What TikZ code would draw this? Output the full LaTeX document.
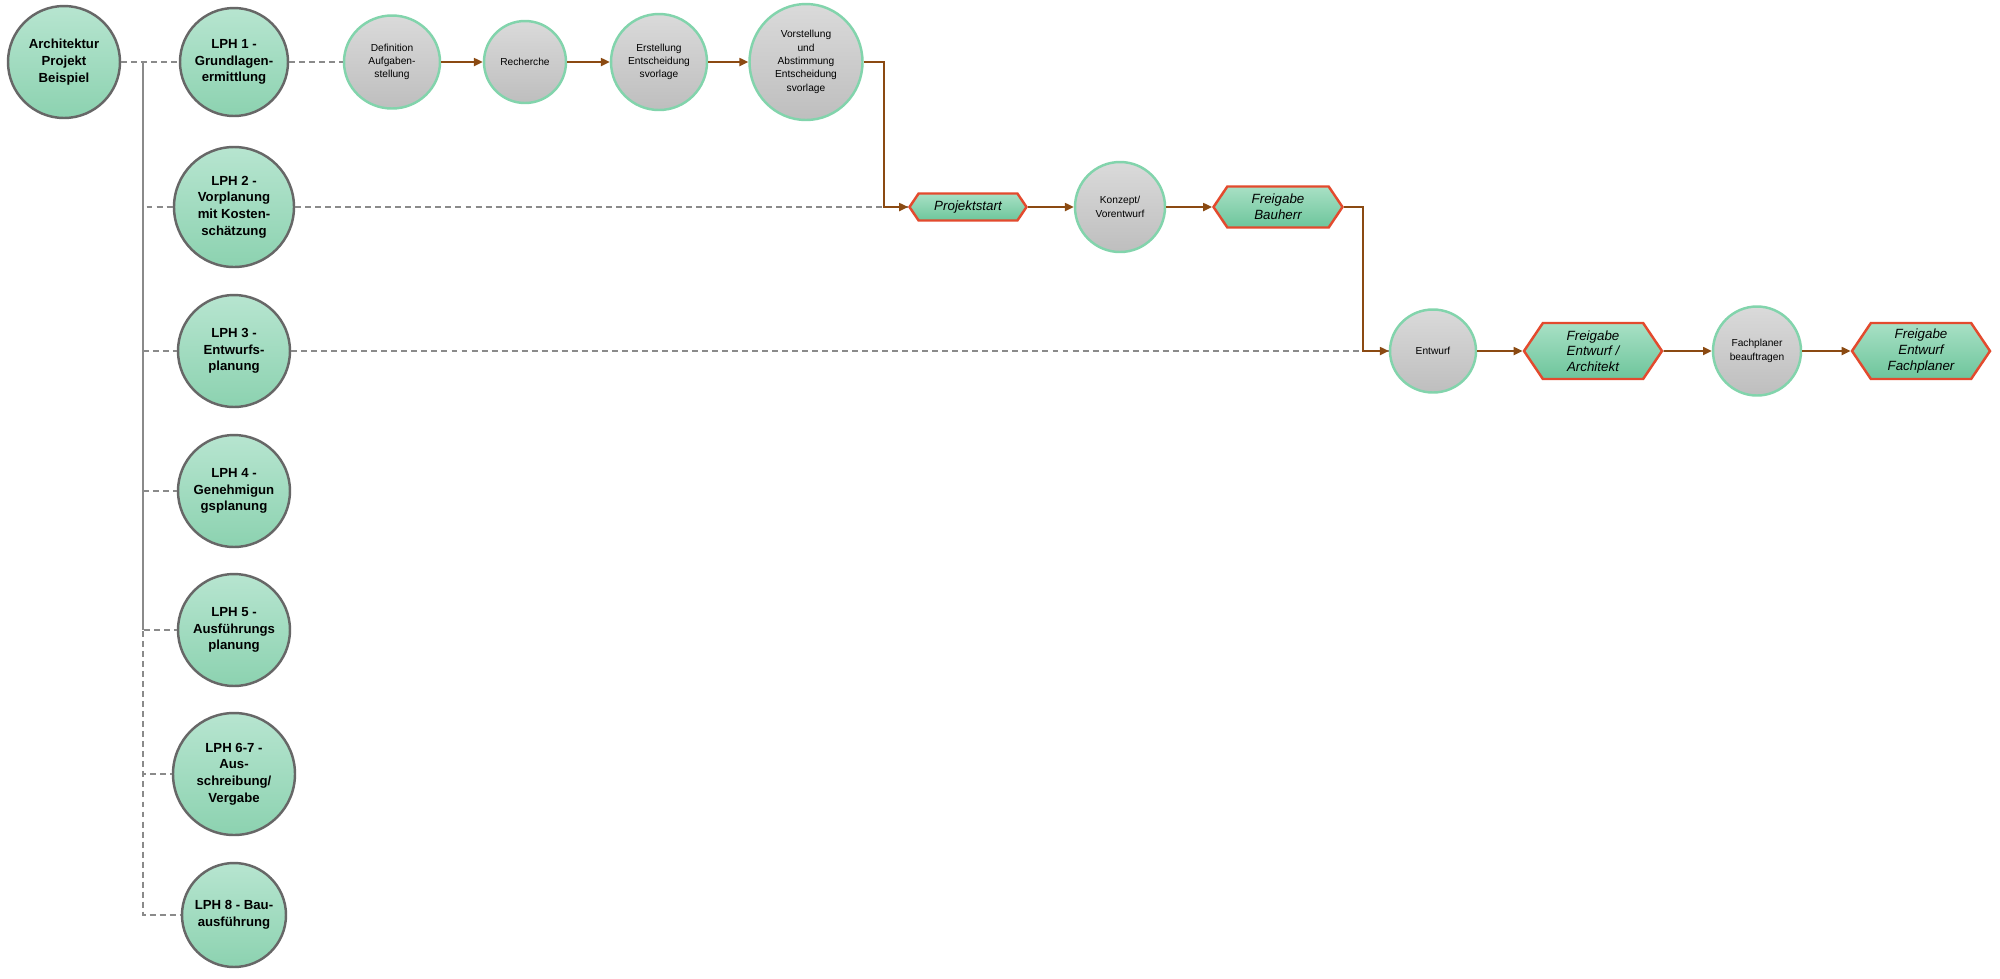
\documentclass[tikz,border=0pt]{standalone}
\usepackage{fontspec}
\setmainfont{Liberation Sans}
\usetikzlibrary{shapes, arrows.meta, positioning, calc}

\definecolor{greentop}{HTML}{B7E5D0}
\definecolor{greenbottom}{HTML}{8CD2B0}
\definecolor{gatetop}{HTML}{A8E0C5}
\definecolor{gatebottom}{HTML}{6DC59B}
\definecolor{steprim}{HTML}{82D4AC}
\definecolor{greytop}{HTML}{DADADA}
\definecolor{greybottom}{HTML}{BEBEBE}
\definecolor{phaserim}{HTML}{676767}
\definecolor{gaterim}{HTML}{E34A2E}
\definecolor{flowbrown}{HTML}{8B4A12}
\definecolor{linkgray}{HTML}{8A8A8A}

\begin{document}
\begin{tikzpicture}[
	% Define styles
	phasenode/.style={circle, draw=phaserim, line width=1.4pt, top color=greentop, bottom color=greenbottom, align=center, inner sep=0pt, font=\fontsize{7.5}{9.5}\selectfont\bfseries},
	stepnode/.style={ellipse, draw=steprim, line width=1.4pt, top color=greytop, bottom color=greybottom, align=center, inner sep=0pt, font=\fontsize{5.8}{7.6}\selectfont},
	gatenode/.style={signal, signal to=west and east, signal pointer angle=112, draw=gaterim, line width=1.4pt, top color=gatetop, bottom color=gatebottom, align=center, inner sep=0pt, font=\fontsize{7.6}{8.9}\selectfont\itshape},
	flowarrow/.style={-{Triangle[length=5pt, width=4.5pt]}, line width=1.1pt, draw=flowbrown},
	linkline/.style={draw=linkgray, line width=0.85pt, dash pattern=on 3.4pt off 2.3pt},
	trunkline/.style={draw=linkgray, line width=0.85pt}
	]
	
	\useasboundingbox[fill=white] (0,0) rectangle (40,-19.56);
	
	% Project and phases
	\node[phasenode, minimum size=2.24cm] (root) at (1.28,-1.24) {Architektur\\Projekt\\Beispiel};
	\node[phasenode, minimum size=2.16cm] (lph1) at (4.68,-1.24) {LPH 1 -\\Grundlagen-\\ermittlung};
	\node[phasenode, minimum size=2.4cm] (lph2) at (4.68,-4.14) {LPH 2 -\\Vorplanung\\mit Kosten-\\schätzung};
	\node[phasenode, minimum size=2.24cm] (lph3) at (4.68,-7.02) {LPH 3 -\\Entwurfs-\\planung};
	\node[phasenode, minimum size=2.24cm] (lph4) at (4.68,-9.82) {LPH 4 -\\Genehmigun\\gsplanung};
	\node[phasenode, minimum size=2.24cm] (lph5) at (4.68,-12.6) {LPH 5 -\\Ausführungs\\planung};
	\node[phasenode, minimum size=2.44cm] (lph67) at (4.68,-15.48) {LPH 6-7 -\\Aus-\\schreibung/\\Vergabe};
	\node[phasenode, minimum size=2.08cm] (lph8) at (4.68,-18.3) {LPH 8 - Bau-\\ausführung};
	\coordinate (trunk) at (2.86,-1.24);
	
	% Steps of LPH 1
	\node[stepnode, minimum width=1.92cm, minimum height=1.86cm] (defi) at (7.84,-1.24) {Definition\\Aufgaben-\\stellung};
	\node[stepnode, minimum width=1.64cm, minimum height=1.64cm] (rech) at (10.5,-1.24) {Recherche};
	\node[stepnode, minimum width=1.92cm, minimum height=1.92cm] (erst) at (13.18,-1.24) {Erstellung\\Entscheidung\\svorlage};
	\node[stepnode, minimum width=2.26cm, minimum height=2.32cm] (vors) at (16.12,-1.24) {Vorstellung\\und\\Abstimmung\\Entscheidung\\svorlage};
	\coordinate (bend1) at (17.68,-1.24);
	
	% Steps of LPH 2
	\node[gatenode, minimum width=2.34cm, minimum height=0.54cm] (proj) at (19.36,-4.14) {Projektstart};
	\node[stepnode, minimum width=1.8cm, minimum height=1.8cm] (konz) at (22.4,-4.14) {Konzept/\\Vorentwurf};
	\node[gatenode, minimum width=2.58cm, minimum height=0.82cm] (fbau) at (25.56,-4.14) {Freigabe\\Bauherr};
	\coordinate (bend2) at (27.26,-4.14);
	
	% Steps of LPH 3
	\node[stepnode, minimum width=1.72cm, minimum height=1.66cm] (entw) at (28.66,-7.02) {Entwurf};
	\node[gatenode, minimum width=2.76cm, minimum height=1.12cm] (farch) at (31.86,-7.02) {Freigabe\\Entwurf /\\Architekt};
	\node[stepnode, minimum width=1.76cm, minimum height=1.78cm] (fach) at (35.14,-7.02) {Fachplaner\\beauftragen};
	\node[gatenode, minimum width=2.76cm, minimum height=1.12cm] (ffach) at (38.42,-7.02) {Freigabe\\Entwurf\\Fachplaner};
	
	% Project to phases
	\draw[trunkline] (trunk) -- (trunk |- lph5.west);
	\draw[linkline] (root.east) -- (trunk) |- (lph1.west);
	\draw[linkline] (root.east) -- (trunk) |- (lph2.west);
	\draw[linkline] (root.east) -- (trunk) |- (lph3.west);
	\draw[linkline] (root.east) -- (trunk) |- (lph4.west);
	\draw[linkline] (root.east) -- (trunk) |- (lph5.west);
	\draw[linkline] (root.east) -- (trunk) |- (lph67.west);
	\draw[linkline] (root.east) -- (trunk) |- (lph8.west);
	
	% Phases to their first step
	\draw[linkline] (lph1.east) -- (defi.west);
	\draw[linkline] (lph2.east) -- (proj.west);
	\draw[linkline] (lph3.east) -- (entw.west);
	
	% Process flow
	\draw[flowarrow] (defi) -- (rech);
	\draw[flowarrow] (rech) -- (erst);
	\draw[flowarrow] (erst) -- (vors);
	\draw[flowarrow] (vors.east) -- (bend1) |- (proj.west);
	\draw[flowarrow] (proj) -- (konz);
	\draw[flowarrow] (konz) -- (fbau);
	\draw[flowarrow] (fbau.east) -- (bend2) |- (entw.west);
	\draw[flowarrow] (entw) -- (farch);
	\draw[flowarrow] (farch) -- (fach);
	\draw[flowarrow] (fach) -- (ffach);
	
\end{tikzpicture}
\end{document}
